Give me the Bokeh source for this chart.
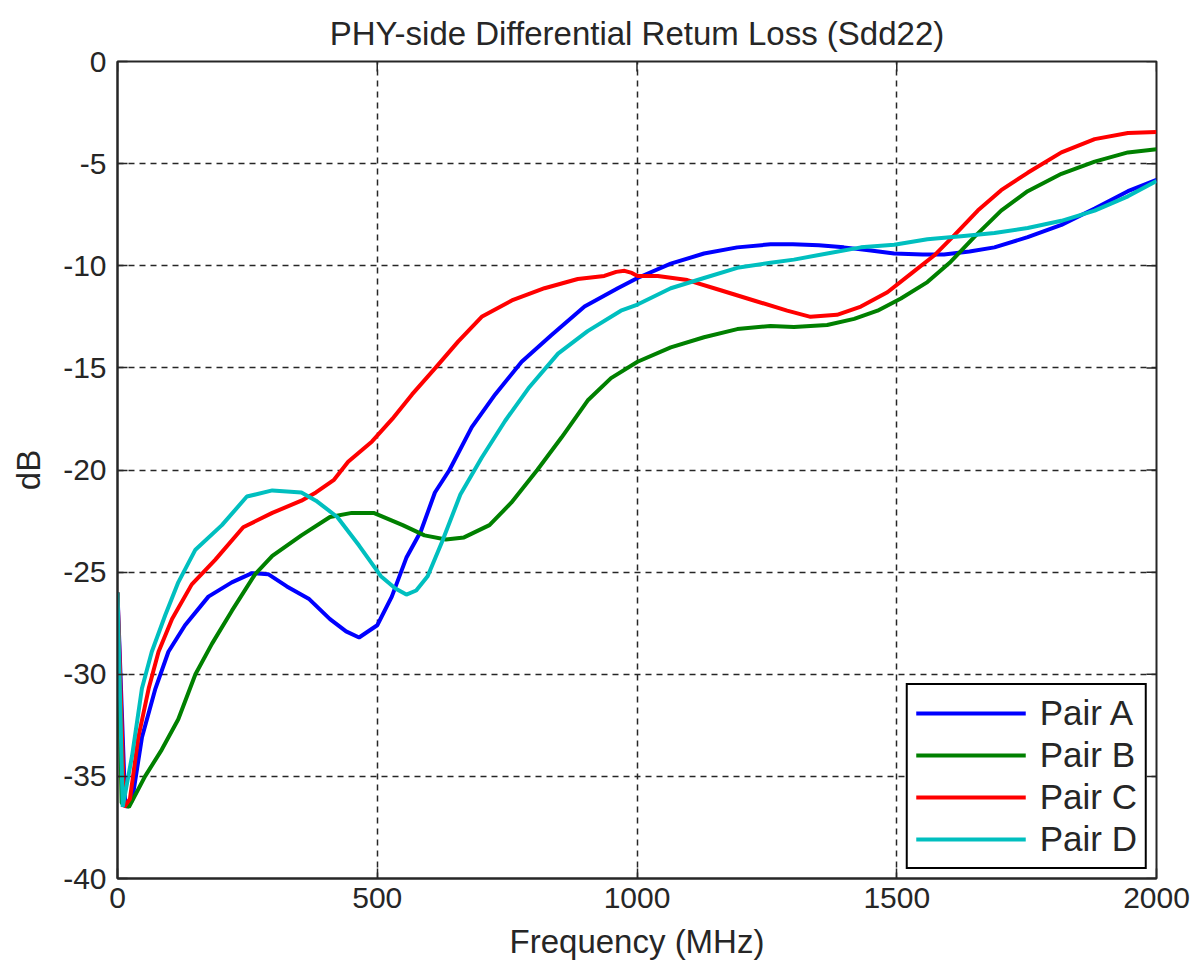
import numpy as np
from bokeh.plotting import figure
from bokeh.models import FixedTicker, Range1d
from bokeh.embed import file_html
from bokeh.resources import INLINE

# ---- data (frequency in MHz, return loss in dB) ----
freq_a = [0, 15, 28, 47, 73, 98, 130, 175, 220, 259, 290, 326, 368, 409, 440, 465, 500, 528, 556, 584, 611, 639,
          682, 727, 778, 835, 899, 963, 1001, 1065, 1129, 1193, 1257, 1300, 1350, 1398, 1450, 1495, 1550, 1591,
          1640, 1688, 1752, 1817, 1881, 1945, 2000]
pair_a = [-26, -36.5, -36.2, -33.1, -30.7, -28.9, -27.6, -26.2, -25.5, -25.05, -25.1, -25.7, -26.3, -27.3, -27.9,
          -28.2, -27.6, -26.2, -24.3, -23.0, -21.1, -20.0, -17.9, -16.3, -14.7, -13.4, -12.0, -11.1, -10.6, -9.9,
          -9.4, -9.1, -8.95, -8.95, -9.0, -9.1, -9.25, -9.4, -9.45, -9.45, -9.3, -9.1, -8.6, -8.0, -7.2, -6.35, -5.8]

freq_b = [0, 8, 22, 53, 85, 117, 150, 182, 220, 265, 298, 354, 409, 451, 493, 549, 591, 632, 667, 716, 758, 808,
          855, 905, 950, 1001, 1065, 1129, 1193, 1257, 1302, 1366, 1418, 1463, 1508, 1559, 1604, 1649, 1701, 1752,
          1817, 1881, 1945, 2000]
pair_b = [-26, -36.3, -36.5, -35.0, -33.7, -32.2, -30.0, -28.5, -26.9, -25.1, -24.2, -23.2, -22.3, -22.1, -22.1,
          -22.7, -23.2, -23.4, -23.3, -22.7, -21.6, -20.0, -18.4, -16.6, -15.5, -14.7, -14.0, -13.5, -13.1, -12.95,
          -13.0, -12.9, -12.6, -12.2, -11.6, -10.8, -9.8, -8.6, -7.3, -6.35, -5.5, -4.9, -4.45, -4.3]

freq_c = [0, 13, 24, 40, 60, 79, 105, 143, 188, 242, 298, 354, 382, 416, 444, 490, 529, 567, 612, 656, 701, 759,
          822, 886, 937, 960, 976, 990, 1001, 1040, 1097, 1161, 1225, 1289, 1334, 1385, 1431, 1482, 1527, 1572,
          1611, 1656, 1701, 1752, 1817, 1881, 1945, 2000]
pair_c = [-26, -36.5, -36.1, -33.1, -30.7, -28.9, -27.3, -25.6, -24.4, -22.8, -22.1, -21.5, -21.1, -20.5, -19.6,
          -18.6, -17.5, -16.3, -15.0, -13.7, -12.5, -11.7, -11.1, -10.65, -10.5, -10.3, -10.25, -10.35, -10.5,
          -10.5, -10.7, -11.2, -11.7, -12.2, -12.5, -12.4, -12.0, -11.3, -10.4, -9.5, -8.5, -7.3, -6.3, -5.45,
          -4.45, -3.8, -3.5, -3.45]

freq_d = [0, 10, 28, 47, 66, 92, 117, 150, 201, 249, 298, 354, 382, 423, 465, 507, 535, 556, 575, 597, 625, 660,
          701, 746, 791, 848, 905, 969, 1001, 1065, 1129, 1193, 1257, 1302, 1366, 1431, 1495, 1559, 1624, 1688,
          1752, 1817, 1881, 1945, 2000]
pair_d = [-26, -36.5, -34.0, -30.7, -28.9, -27.1, -25.5, -23.9, -22.7, -21.3, -21.0, -21.1, -21.5, -22.3, -23.7,
          -25.2, -25.8, -26.1, -25.9, -25.2, -23.5, -21.2, -19.4, -17.6, -16.0, -14.3, -13.2, -12.2, -11.9, -11.1,
          -10.6, -10.1, -9.85, -9.7, -9.4, -9.1, -8.97, -8.7, -8.55, -8.4, -8.15, -7.8, -7.3, -6.6, -5.85]

series_labels = ["Pair A", "Pair B", "Pair C", "Pair D"]
series_colors = ["#0000FF", "#008000", "#FF0000", "#00BFBF"]

x_ticks = [0, 500, 1000, 1500, 2000]
x_tick_labels = ["0", "500", "1000", "1500", "2000"]
y_ticks = [-40, -35, -30, -25, -20, -15, -10, -5, 0]
y_tick_labels = ["-40", "-35", "-30", "-25", "-20", "-15", "-10", "-5", "0"]

title_text = "PHY-side Differential Retum Loss (Sdd22)"
x_label = "Frequency (MHz)"
y_label = "dB"

FONT = "Liberation Sans"
INK = "#262626"
X_MIN, X_MAX = 0, 2000
Y_MIN, Y_MAX = -40, 0

p = figure(width=1200, height=964, x_range=Range1d(X_MIN, X_MAX), y_range=Range1d(Y_MIN, Y_MAX),
           output_backend="svg", toolbar_location=None,
           min_border_left=117, min_border_right=44, min_border_top=61, min_border_bottom=86,
           background_fill_color="white", border_fill_color="white")

p.title.text = title_text
p.title.text_font = FONT
p.title.text_font_size = "33px"
p.title.text_font_style = "normal"
p.title.text_color = INK
p.title.align = "center"
p.title.standoff = 20

p.outline_line_color = INK
p.outline_line_width = 2
p.outline_line_alpha = 1

for ax in (p.xaxis[0], p.yaxis[0]):
    ax.axis_line_color = INK
    ax.axis_line_width = 2
    ax.major_tick_line_color = INK
    ax.major_tick_line_width = 1.5
    ax.major_tick_in = 10
    ax.major_tick_out = 0
    ax.minor_tick_in = 0
    ax.minor_tick_out = 0
    ax.major_label_text_font = FONT
    ax.major_label_text_font_size = "30px"
    ax.major_label_text_color = INK
    ax.axis_label_text_font = FONT
    ax.axis_label_text_font_size = "33px"
    ax.axis_label_text_font_style = "normal"
    ax.axis_label_text_color = INK

p.xaxis[0].ticker = FixedTicker(ticks=x_ticks)
p.yaxis[0].ticker = FixedTicker(ticks=y_ticks)
p.xaxis[0].major_label_overrides = {t: s for t, s in zip(x_ticks, x_tick_labels)}
p.yaxis[0].major_label_overrides = {t: s for t, s in zip(y_ticks, y_tick_labels)}
p.xaxis[0].axis_label = x_label
p.yaxis[0].axis_label = y_label
p.xaxis[0].major_label_standoff = 9
p.xaxis[0].axis_label_standoff = 12
p.yaxis[0].major_label_standoff = 11
p.yaxis[0].axis_label_standoff = 13

p.xgrid.ticker = FixedTicker(ticks=x_ticks)
p.ygrid.ticker = FixedTicker(ticks=y_ticks)
for g in (p.xgrid[0], p.ygrid[0]):
    g.grid_line_color = INK
    g.grid_line_width = 1.5
    g.grid_line_dash = "6 5"
    g.grid_line_alpha = 1

for fx, fy, lab, col in zip([freq_a, freq_b, freq_c, freq_d], [pair_a, pair_b, pair_c, pair_d],
                            series_labels, series_colors):
    p.line(fx, fy, line_color=col, line_width=4, legend_label=lab)

# box-style inward ticks on the top and right edges (half of each dash is clipped by the frame)
p.scatter(x_ticks, [Y_MAX] * len(x_ticks), marker="dash", size=20, angle=np.pi / 2,
          line_color=INK, line_width=1.5)
p.scatter([X_MAX] * len(y_ticks), y_ticks, marker="dash", size=20,
          line_color=INK, line_width=1.5)

lg = p.legend[0]
lg.location = "bottom_right"
lg.margin = 9
lg.padding = 8
lg.spacing = 2
lg.glyph_width = 110
lg.glyph_height = 36
lg.label_height = 36
lg.label_standoff = 14
lg.label_text_font = FONT
lg.label_text_font_size = "35px"
lg.label_text_color = INK
lg.border_line_color = "black"
lg.border_line_width = 2
lg.border_line_alpha = 1
lg.background_fill_color = "white"
lg.background_fill_alpha = 1

open("out.html", "w").write(file_html(p, INLINE))
